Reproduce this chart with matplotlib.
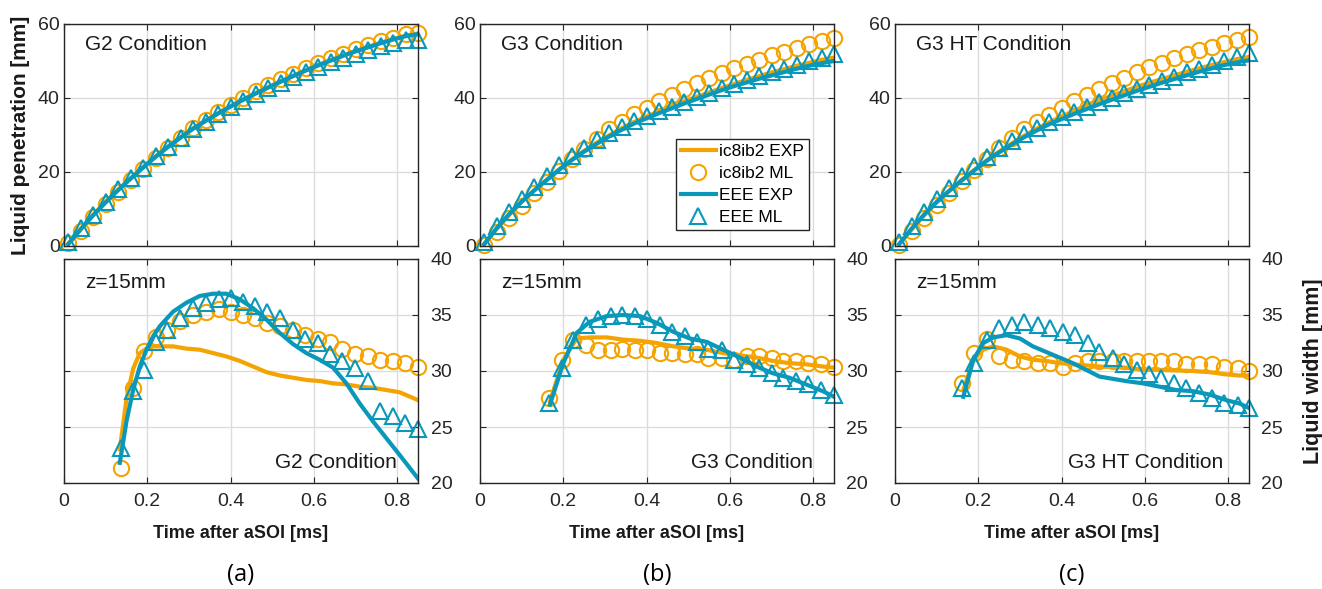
import matplotlib.pyplot as plt

plt.rcParams['font.family'] = ['Liberation Sans', 'DejaVu Sans']

ORANGE = '#F5A300'
BLUE = '#0A98BA'

# ---- liquid penetration (top row) ----
t_pen = [0.01, 0.04, 0.07, 0.10, 0.13, 0.16, 0.19, 0.22, 0.25, 0.28, 0.31, 0.34, 0.37, 0.40, 0.43,
         0.46, 0.49, 0.52, 0.55, 0.58, 0.61, 0.64, 0.67, 0.70, 0.73, 0.76, 0.79, 0.82, 0.85]

g2_pen_ic8_exp = [0.6, 4.6, 8.4, 11.9, 15.2, 18.3, 21.3, 24.2, 26.9, 29.4, 31.8, 33.9, 35.9, 37.8, 39.6,
                  41.3, 42.9, 44.5, 46.0, 47.5, 48.9, 50.2, 51.5, 52.7, 53.8, 54.9, 55.9, 56.8, 57.4]
g2_pen_ic8_ml = [0.8, 4.0, 7.8, 11.3, 14.7, 17.8, 20.8, 23.8, 26.6, 29.3, 31.8, 34.0, 36.1, 38.1, 40.0,
                 41.8, 43.5, 45.1, 46.6, 48.1, 49.5, 50.8, 52.0, 53.2, 54.3, 55.3, 56.3, 57.2, 57.7]
g2_pen_eee_exp = [0.5, 4.5, 8.3, 11.8, 15.1, 18.2, 21.2, 24.1, 26.8, 29.3, 31.7, 33.8, 35.8, 37.7, 39.5,
                  41.2, 42.8, 44.4, 45.9, 47.4, 48.8, 50.1, 51.4, 52.6, 53.7, 54.8, 55.8, 56.7, 57.3]
g2_pen_eee_ml = [1.0, 4.8, 8.5, 12.0, 15.4, 18.4, 21.2, 24.2, 26.8, 29.2, 31.5, 33.6, 35.6, 37.5, 39.3,
                 41.0, 42.6, 44.1, 45.6, 47.0, 48.3, 49.6, 50.8, 52.0, 53.1, 54.1, 55.0, 55.6, 55.8]

g3_pen_ic8_exp = [0.5, 4.6, 8.4, 11.9, 15.0, 17.9, 20.7, 23.3, 25.7, 27.9, 29.9, 31.8, 33.5, 35.0, 36.4,
                  37.8, 39.1, 40.3, 41.5, 42.7, 43.8, 44.9, 45.9, 46.9, 47.8, 48.7, 49.5, 50.3, 50.9]
g3_pen_ic8_ml = [0.3, 3.8, 7.5, 10.9, 14.2, 17.3, 20.3, 23.4, 26.3, 29.0, 31.5, 33.6, 35.6, 37.4, 39.2,
                 40.9, 42.5, 44.0, 45.4, 46.8, 48.1, 49.3, 50.4, 51.5, 52.5, 53.5, 54.5, 55.4, 56.1]
g3_pen_eee_exp = [0.5, 4.8, 8.6, 12.0, 15.0, 17.8, 20.6, 23.2, 25.5, 27.6, 29.6, 31.4, 33.1, 34.5, 35.9,
                  37.2, 38.5, 39.7, 40.9, 42.1, 43.2, 44.2, 45.2, 46.1, 47.0, 47.9, 48.7, 49.4, 50.0]
g3_pen_eee_ml = [1.0, 5.4, 9.3, 12.8, 16.0, 19.0, 21.8, 24.3, 26.6, 28.6, 30.5, 32.2, 33.7, 35.1, 36.4,
                 37.7, 39.0, 40.2, 41.4, 42.6, 43.7, 44.8, 45.9, 46.9, 47.9, 48.9, 49.9, 50.9, 52.0]

g3ht_pen_ic8_exp = [0.5, 4.5, 8.3, 11.8, 14.9, 17.8, 20.5, 23.1, 25.5, 27.7, 29.8, 31.7, 33.4, 35.0, 36.5,
                    37.9, 39.3, 40.6, 41.8, 43.0, 44.1, 45.1, 46.1, 47.1, 48.0, 48.9, 49.7, 50.5, 51.1]
g3ht_pen_ic8_ml = [0.3, 4.0, 7.7, 11.1, 14.4, 17.5, 20.5, 23.5, 26.4, 29.1, 31.5, 33.6, 35.5, 37.3, 39.1,
                   40.8, 42.4, 44.0, 45.5, 46.9, 48.3, 49.5, 50.7, 51.8, 52.9, 53.9, 54.9, 55.8, 56.4]
g3ht_pen_eee_exp = [0.5, 4.7, 8.5, 11.9, 14.9, 17.7, 20.4, 23.0, 25.3, 27.4, 29.4, 31.2, 32.9, 34.3, 35.7,
                    37.0, 38.3, 39.5, 40.7, 41.9, 43.0, 44.1, 45.1, 46.1, 47.1, 48.0, 48.9, 49.6, 50.2]
g3ht_pen_eee_ml = [1.0, 5.4, 9.2, 12.7, 15.8, 18.8, 21.6, 24.1, 26.4, 28.4, 30.3, 32.0, 33.5, 34.9, 36.3,
                   37.6, 38.9, 40.1, 41.3, 42.5, 43.6, 44.7, 45.8, 46.9, 47.9, 48.9, 50.0, 51.1, 52.2]

# ---- liquid width at z=15mm (bottom row) ----
g2_wid_t = [0.136, 0.165, 0.191, 0.220, 0.248, 0.279, 0.310, 0.342, 0.371, 0.401, 0.430, 0.459, 0.488,
            0.519, 0.550, 0.579, 0.610, 0.639, 0.668, 0.698, 0.730, 0.758, 0.790, 0.818, 0.850]
g2_wid_ic8_ml = [21.3, 28.5, 31.8, 33.0, 33.7, 34.5, 35.0, 35.3, 35.5, 35.3, 35.0, 34.7, 34.3,
                 34.0, 33.7, 33.2, 32.9, 32.6, 32.0, 31.5, 31.3, 31.0, 30.9, 30.7, 30.4]
g2_wid_eee_ml = [23.1, 28.2, 30.1, 32.6, 33.7, 34.7, 35.6, 36.1, 36.4, 36.5, 36.2, 35.8, 35.3,
                 34.7, 33.7, 32.9, 32.5, 31.5, 30.9, 30.3, 29.1, 26.4, 26.0, 25.4, 24.8]
g2_exp_t = [0.134, 0.150, 0.166, 0.182, 0.198, 0.214, 0.230, 0.262, 0.294, 0.326, 0.358, 0.390, 0.422,
            0.454, 0.486, 0.518, 0.550, 0.582, 0.614, 0.646, 0.678, 0.710, 0.742, 0.774, 0.806, 0.850]
g2_wid_ic8_exp = [23.0, 27.5, 30.2, 31.6, 32.0, 32.2, 32.2, 32.2, 32.0, 31.9, 31.6, 31.3, 30.9,
                  30.4, 29.9, 29.6, 29.4, 29.2, 29.1, 28.9, 28.8, 28.6, 28.5, 28.3, 28.1, 27.4]
g2_wid_eee_exp = [21.8, 25.5, 28.3, 30.4, 31.9, 33.1, 34.0, 35.3, 36.1, 36.7, 36.9, 36.9, 36.4,
                  35.6, 34.6, 33.4, 32.4, 31.6, 31.0, 30.3, 28.9, 27.1, 25.5, 24.0, 22.5, 20.4]

g3_wid_t = [0.166, 0.196, 0.224, 0.254, 0.284, 0.314, 0.342, 0.372, 0.401, 0.432, 0.460, 0.492,
            0.520, 0.548, 0.580, 0.610, 0.640, 0.670, 0.700, 0.727, 0.758, 0.787, 0.818, 0.850]
g3_wid_ic8_ml = [27.6, 31.0, 32.8, 32.3, 31.9, 31.9, 32.0, 31.9, 31.9, 31.6, 31.6, 31.5,
                 31.5, 31.2, 31.2, 31.0, 31.3, 31.3, 31.2, 30.9, 30.9, 30.7, 30.6, 30.4]
g3_wid_eee_ml = [27.1, 30.3, 32.8, 34.1, 34.6, 34.9, 35.0, 34.9, 34.6, 34.1, 33.5, 33.1,
                 32.6, 32.0, 31.9, 31.0, 30.6, 30.3, 29.8, 29.4, 29.1, 28.8, 28.3, 27.9]
g3_exp_t = [0.168, 0.200, 0.232, 0.264, 0.304, 0.344, 0.384, 0.424, 0.464, 0.504, 0.544, 0.584,
            0.624, 0.664, 0.703, 0.743, 0.783, 0.823, 0.850]
g3_wid_ic8_exp = [27.3, 31.0, 32.9, 33.0, 33.0, 32.8, 32.7, 32.5, 32.2, 32.0, 31.9, 31.6,
                  31.4, 31.2, 30.9, 30.7, 30.6, 30.4, 30.3]
g3_wid_eee_exp = [27.0, 30.7, 33.4, 34.4, 34.9, 35.0, 34.9, 34.3, 33.5, 32.9, 32.6, 31.9,
                  31.2, 30.4, 29.8, 29.4, 28.8, 28.2, 27.7]

g3ht_wid_t = [0.162, 0.190, 0.220, 0.250, 0.280, 0.310, 0.343, 0.371, 0.403, 0.433, 0.463, 0.491,
              0.523, 0.551, 0.581, 0.611, 0.639, 0.671, 0.699, 0.731, 0.761, 0.791, 0.823, 0.850]
g3ht_wid_ic8_ml = [28.9, 31.6, 32.9, 31.3, 31.0, 30.9, 30.7, 30.7, 30.4, 30.7, 30.9, 30.9,
                   30.9, 30.9, 30.9, 30.9, 30.9, 30.9, 30.6, 30.6, 30.6, 30.4, 30.3, 30.0]
g3ht_wid_eee_ml = [28.5, 30.7, 32.8, 33.8, 34.1, 34.4, 34.1, 33.8, 33.5, 33.2, 32.5, 31.7,
                   31.2, 30.6, 30.1, 29.7, 29.4, 28.9, 28.5, 28.0, 27.6, 27.1, 27.0, 26.7]
g3ht_exp_t = [0.164, 0.188, 0.212, 0.236, 0.268, 0.300, 0.331, 0.363, 0.395, 0.427, 0.459, 0.491,
              0.523, 0.555, 0.595, 0.635, 0.675, 0.715, 0.755, 0.795, 0.827, 0.850]
g3ht_wid_ic8_exp = [28.3, 31.0, 31.9, 32.2, 31.9, 31.3, 31.0, 30.9, 30.7, 30.6, 30.5, 30.4,
                    30.35, 30.3, 30.1, 30.1, 30.05, 30.0, 29.9, 29.7, 29.6, 29.6]
g3ht_wid_eee_exp = [27.7, 31.0, 32.5, 33.0, 33.2, 32.9, 32.2, 31.7, 31.2, 30.7, 30.1, 29.5,
                    29.3, 29.1, 28.9, 28.6, 28.3, 28.2, 27.9, 27.4, 27.1, 26.7]

x_ticks = [0, 0.2, 0.4, 0.6, 0.8]
x_ticklabels = ['0', '0.2', '0.4', '0.6', '0.8']

panels = [
    ('G2 Condition', '(a)',
     (g2_pen_ic8_exp, g2_pen_ic8_ml, g2_pen_eee_exp, g2_pen_eee_ml),
     (g2_wid_t, g2_exp_t, g2_wid_ic8_exp, g2_wid_ic8_ml, g2_wid_eee_exp, g2_wid_eee_ml)),
    ('G3 Condition', '(b)',
     (g3_pen_ic8_exp, g3_pen_ic8_ml, g3_pen_eee_exp, g3_pen_eee_ml),
     (g3_wid_t, g3_exp_t, g3_wid_ic8_exp, g3_wid_ic8_ml, g3_wid_eee_exp, g3_wid_eee_ml)),
    ('G3 HT Condition', '(c)',
     (g3ht_pen_ic8_exp, g3ht_pen_ic8_ml, g3ht_pen_eee_exp, g3ht_pen_eee_ml),
     (g3ht_wid_t, g3ht_exp_t, g3ht_wid_ic8_exp, g3ht_wid_ic8_ml, g3ht_wid_eee_exp, g3ht_wid_eee_ml)),
]

W, H = 1322, 589
fig = plt.figure(figsize=(W / 100, H / 100), dpi=100)

lefts = [64, 480, 895]
ax_w = 354
circ = dict(marker='o', ls='none', mfc='none', mec=ORANGE, mew=1.5, ms=11, clip_on=False)
tri = dict(marker='^', ls='none', mfc='none', mec=BLUE, mew=1.5, ms=11.5, clip_on=False)
TXT = '#1a1a1a'


def style(ax):
    ax.set_xlim(0, 0.85)
    ax.set_xticks(x_ticks)
    ax.set_xticklabels(x_ticklabels)
    ax.grid(True, color='#dcdcdc', lw=1)
    ax.set_axisbelow(True)
    ax.tick_params(direction='in', length=4, width=0.8, labelsize=14, colors='#262626', pad=7,
                   top=True, right=True, left=True, bottom=True)
    for s in ax.spines.values():
        s.set_color('#262626')
        s.set_linewidth(1.0)


for i, (name, tag, pen, wid) in enumerate(panels):
    x0 = lefts[i] / W
    # top: penetration
    ax = fig.add_axes([x0, 1 - 246 / H, ax_w / W, 222 / H])
    style(ax)
    ax.set_ylim(0, 60)
    ax.set_yticks([0, 20, 40, 60])
    ax.set_yticklabels(['0', '20', '40', '60'])
    ax.tick_params(axis='y', pad=3)
    ax.set_xticklabels([])
    l1, = ax.plot(t_pen, pen[0], color=ORANGE, lw=3, label='ic8ib2 EXP')
    l2, = ax.plot(t_pen, pen[1], label='ic8ib2 ML', **circ)
    l3, = ax.plot(t_pen, pen[2], color=BLUE, lw=3, label='EEE EXP')
    l4, = ax.plot(t_pen, pen[3], label='EEE ML', **tri)
    ax.text(0.05, 54.5, name, fontsize=15, va='center', ha='left', color=TXT)
    if i == 0:
        ax.set_ylabel('Liquid penetration [mm]', fontsize=15, fontweight='bold', color=TXT)
        ax.yaxis.set_label_coords(-0.097, 0.5)
    if i == 1:
        leg = ax.legend(handles=[l1, l2, l3, l4], loc='upper left', bbox_to_anchor=(0.553, 0.482),
                        fontsize=12.5, frameon=True, fancybox=False, edgecolor='#262626',
                        borderpad=0.3, labelspacing=0.38, handlelength=2.0, handletextpad=0.2,
                        borderaxespad=0, framealpha=1)
        leg.get_frame().set_linewidth(1.0)

    # bottom: width
    bx = fig.add_axes([x0, 1 - 483 / H, ax_w / W, 224 / H])
    style(bx)
    bx.set_ylim(20, 40)
    bx.set_yticks([20, 25, 30, 35, 40])
    bx.set_yticklabels(['20', '25', '30', '35', '40'])
    bx.tick_params(labelleft=False, labelright=True)
    bx.tick_params(axis='y', pad=9)
    wt, et, ic8_exp, ic8_ml, eee_exp, eee_ml = wid
    bx.plot(et, ic8_exp, color=ORANGE, lw=3)
    bx.plot(wt, ic8_ml, **circ)
    bx.plot(et, eee_exp, color=BLUE, lw=3)
    bx.plot(wt, eee_ml, **tri)
    bx.text(0.05, 37.9, 'z=15mm', fontsize=15, va='center', ha='left', color=TXT)
    bx.text(0.80 if i < 2 else 0.787, 21.8, name, fontsize=15, va='center', ha='right', color=TXT)
    bx.set_xlabel('Time after aSOI [ms]', fontsize=13, fontweight='bold', labelpad=11, color=TXT)
    if i == 2:
        bx.yaxis.set_label_position('right')
        bx.set_ylabel('Liquid width [mm]', fontsize=15.5, fontweight='bold', labelpad=14, color=TXT)
    fig.text((lefts[i] + ax_w / 2) / W, 1 - 575 / H, tag, fontsize=17, ha='center', va='center',
             family=['Open Sans', 'DejaVu Sans'])

fig.savefig('out.png', dpi=100)
